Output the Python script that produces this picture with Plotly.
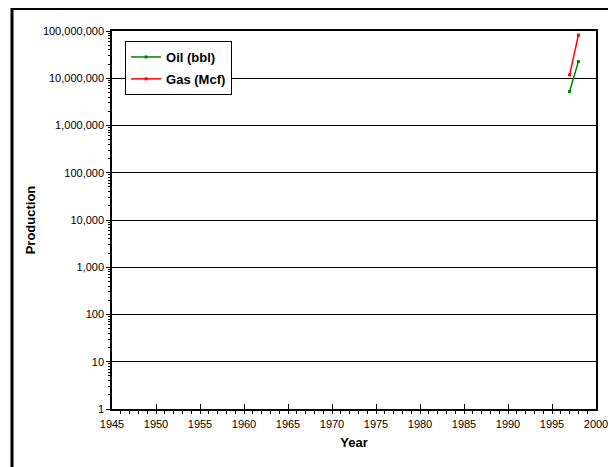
import plotly.graph_objects as go

years = [1997, 1998]
oil_bbl = [5250000, 22500000]
gas_mcf = [11800000, 82000000]

y_tickvals = [1, 10, 100, 1000, 10000, 100000, 1000000, 10000000, 100000000]
y_ticktext = ["1", "10", "100", "1,000", "10,000", "100,000", "1,000,000", "10,000,000", "100,000,000"]
x_tickvals = [1945, 1950, 1955, 1960, 1965, 1970, 1975, 1980, 1985, 1990, 1995, 2000]

FONT = "Arial, 'Liberation Sans', sans-serif"

fig = go.Figure()
fig.add_trace(go.Scatter(
    x=years, y=oil_bbl, name="<b>Oil (bbl)</b>", mode="lines+markers",
    line=dict(color="#008000", width=1.5),
    marker=dict(color="#008000", size=3, symbol="square"),
    legendgroup="a"))
fig.add_trace(go.Scatter(
    x=years, y=gas_mcf, name="<b>Gas (Mcf)</b>", mode="lines+markers",
    line=dict(color="#FF0000", width=1.5),
    marker=dict(color="#FF0000", size=3, symbol="square"),
    legendgroup="b"))

fig.update_layout(
    width=616, height=467,
    margin=dict(l=104, r=28, t=23, b=66),
    paper_bgcolor="white", plot_bgcolor="white",
    font=dict(family=FONT, size=11, color="black"),
    showlegend=True,
    legend=dict(
        x=0.027, y=0.9735, xanchor="left", yanchor="top",
        bgcolor="white", bordercolor="black", borderwidth=1,
        font=dict(size=13, family=FONT),
        tracegroupgap=2, traceorder="grouped", itemwidth=30,
    ),
    xaxis=dict(
        range=[1945, 2000], tickvals=x_tickvals,
        showgrid=False, zeroline=False,
        showline=True, linecolor="black", linewidth=1.5, mirror=True,
        ticks="inside", ticklen=5, tickcolor="black",
        minor=dict(dtick=1, ticks="outside", ticklen=3, tickcolor="black", showgrid=False),
        title=dict(text="<b>Year</b>", font=dict(size=13), standoff=9),
        tickfont=dict(size=11), ticklabelstandoff=4,
    ),
    yaxis=dict(
        type="log", range=[0, 8],
        tickvals=y_tickvals, ticktext=y_ticktext,
        showgrid=True, gridcolor="black", gridwidth=1,
        zeroline=False,
        showline=True, linecolor="black", linewidth=1.5, mirror=True,
        ticks="outside", ticklen=4, tickcolor="black",
        minor=dict(dtick="D1", ticks="outside", ticklen=2, tickcolor="black", showgrid=False),
        title=dict(text="<b>Production</b>", font=dict(size=13), standoff=4),
        tickfont=dict(size=11),
    ),
    shapes=[dict(
        type="rect", xref="paper", yref="paper",
        x0=(4 - 104) / 484, x1=1.2, y0=-0.3, y1=(401 - 0.5) / 378,
        line=dict(color="black", width=3), fillcolor="rgba(0,0,0,0)", layer="above",
    )],
)

fig.write_html("out.html")
